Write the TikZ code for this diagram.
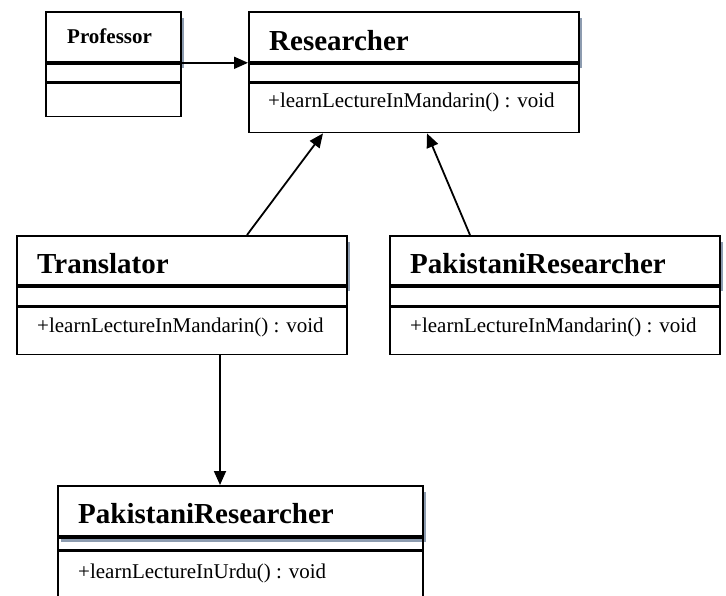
\documentclass[tikz,border=0pt]{standalone}
\usepackage{fontspec}
\setmainfont{Liberation Serif}
\usetikzlibrary{positioning,arrows.meta,shadows}
\definecolor{shgray}{HTML}{8D9CB0}
\newcommand{\ttlfont}{\fontsize{29}{29}\selectfont\bfseries}
\newcommand{\smallttl}{\fontsize{21}{21}\selectfont\bfseries}
\newcommand{\mthfont}{\fontsize{21}{21}\selectfont}

\begin{document}
\begin{tikzpicture}[x=1pt,y=-1pt,>={Triangle[length=14pt,width=12pt]},
  box/.style={draw,line width=1.8pt,anchor=north west,inner sep=0pt,minimum width=#1},
  hdr/.style={box=#1,fill=white,drop shadow={shadow xshift=3pt,shadow yshift=-6pt,fill=shgray,opacity=1}},
  ttl/.style={anchor=base west,inner sep=0pt,font=\ttlfont},
  mth/.style={anchor=base west,inner sep=0pt,font=\mthfont},
  arr/.style={->,line width=1.8pt}]
\useasboundingbox (0,0) rectangle (726,595);
% Professor
\node[hdr=135pt,minimum height=50pt] (prof) at (45,11) {};
\node[box=135pt,minimum height=18pt,fill=white] (prof-a) at (prof.south west) {};
\node[box=135pt,minimum height=33pt,fill=white] (prof-m) at (prof-a.south west) {};
\node[anchor=base west,inner sep=0pt,font=\smallttl] (prof-t) at (67,43) {Professor};
% Researcher
\node[hdr=330pt,minimum height=50pt] (res) at (248,11) {};
\node[box=330pt,minimum height=18pt,fill=white] (res-a) at (res.south west) {};
\node[box=330pt,minimum height=49pt,fill=white] (res-m) at (res-a.south west) {};
\node[ttl] (res-t) at (269,50) {Researcher};
\node[mth] (res-f) at (268,107) {+learnLectureInMandarin() : void};
% Translator
\node[hdr=330pt,minimum height=49pt] (tr) at (16,235) {};
\node[box=330pt,minimum height=19pt,fill=white] (tr-a) at (tr.south west) {};
\node[box=330pt,minimum height=47pt,fill=white] (tr-m) at (tr-a.south west) {};
\node[ttl] (tr-t) at (37,273) {Translator};
\node[mth] (tr-f) at (37,332) {+learnLectureInMandarin() : void};
% PakistaniResearcher (right)
\node[hdr=330pt,minimum height=49pt] (pr) at (389,235) {};
\node[box=330pt,minimum height=19pt,fill=white] (pr-a) at (pr.south west) {};
\node[box=330pt,minimum height=47pt,fill=white] (pr-m) at (pr-a.south west) {};
\node[ttl] (pr-t) at (410,273) {PakistaniResearcher};
\node[mth] (pr-f) at (410,332) {+learnLectureInMandarin() : void};
% PakistaniResearcher (bottom)
\node[hdr=365pt,minimum height=50pt] (bot) at (57,485) {};
\node[box=365pt,minimum height=12pt] (bot-a) at (bot.south west) {};
\node[box=365pt,minimum height=53pt,fill=white] (bot-m) at (bot-a.south west) {};
\node[ttl] (bot-t) at (78,523) {PakistaniResearcher};
\node[mth] (bot-f) at (78,578) {+learnLectureInUrdu() : void};
% arrows
\draw[arr] (prof.south east) -- (res.south west);
\draw[arr] ([xshift=231pt]tr.north west) -- ([xshift=75pt]res-m.south west);
\draw[arr] ([xshift=81pt]pr.north west) -- ([xshift=179pt]res-m.south west);
\draw[arr] ([xshift=204pt]tr-m.south west) -- ([xshift=163pt]bot.north west);
\end{tikzpicture}
\end{document}
